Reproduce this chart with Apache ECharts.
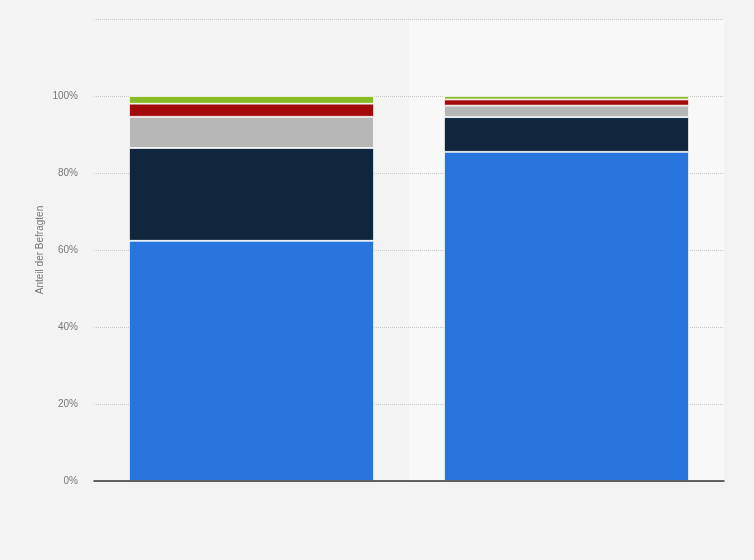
<!DOCTYPE html>
<html>
<head>
<meta charset="utf-8">
<script src="https://cdn.jsdelivr.net/npm/echarts@6/dist/echarts.min.js"></script>
<style>
html,body{margin:0;padding:0;background:#f3f3f3;}
#c{width:754px;height:560px;}
</style>
</head>
<body>
<div id="c"></div>
<script>
var categories = ['', ' '];
var seriesNames = ['A', 'B', 'C', 'D', 'E'];
var s1 = [62.4, 85.5];
var s2 = [24.1, 9.0];
var s3 = [8.1, 3.0];
var s4 = [3.4, 1.6];
var s5 = [2.0, 0.9];
var yTicks = [0, 20, 40, 60, 80, 100, 120];
var yAxisTitle = 'Anteil der Befragten';
var colors = ['#2876dd', '#0f263c', '#b7b7b7', '#a20a0a', '#86bb24'];

var values = [s1, s2, s3, s4, s5];
var chart = echarts.init(document.getElementById('c'));
chart.setOption({
  backgroundColor: '#f3f3f3',
  animation: false,
  grid: {left: 94, right: 30, top: 19, bottom: 79},
  graphic: [{
    type: 'text',
    x: 40, y: 250,
    rotation: Math.PI / 2,
    style: {
      text: yAxisTitle,
      fill: '#777',
      fontSize: 10,
      fontFamily: 'Liberation Sans, Arial',
      align: 'center',
      verticalAlign: 'middle'
    }
  }],
  xAxis: [{
    type: 'category',
    data: categories,
    z: 3,
    axisLine: {show: true, lineStyle: {color: '#333', width: 1.5}},
    axisTick: {show: false},
    axisLabel: {show: false},
    splitLine: {show: false}
  }, {
    type: 'category',
    data: categories,
    position: 'bottom',
    z: 0,
    axisLine: {show: false},
    axisTick: {show: false},
    axisLabel: {show: false},
    splitLine: {show: false},
    splitArea: {show: true, areaStyle: {color: ['rgba(0,0,0,0)', '#f8f8f8']}}
  }],
  yAxis: {
    type: 'value',
    z: 1,
    min: yTicks[0], max: yTicks[yTicks.length - 1], interval: 20,
    axisLine: {show: false},
    axisTick: {show: false},
    axisLabel: {
      color: '#777', fontSize: 10, fontFamily: 'Liberation Sans, Arial', margin: 16,
      formatter: function (v) { return v === 120 ? '' : v + '%'; }
    },
    splitLine: {show: true, lineStyle: {color: '#c8c8c8', type: [1, 1], width: 1}}
  },
  series: values.map(function (arr, i) {
    return {
      name: seriesNames[i],
      type: 'bar',
      stack: 'total',
      data: arr,
      barWidth: 245,
      itemStyle: {color: colors[i], borderColor: '#ffffff', borderWidth: 0.8}
    };
  })
});
</script>
</body>
</html>
